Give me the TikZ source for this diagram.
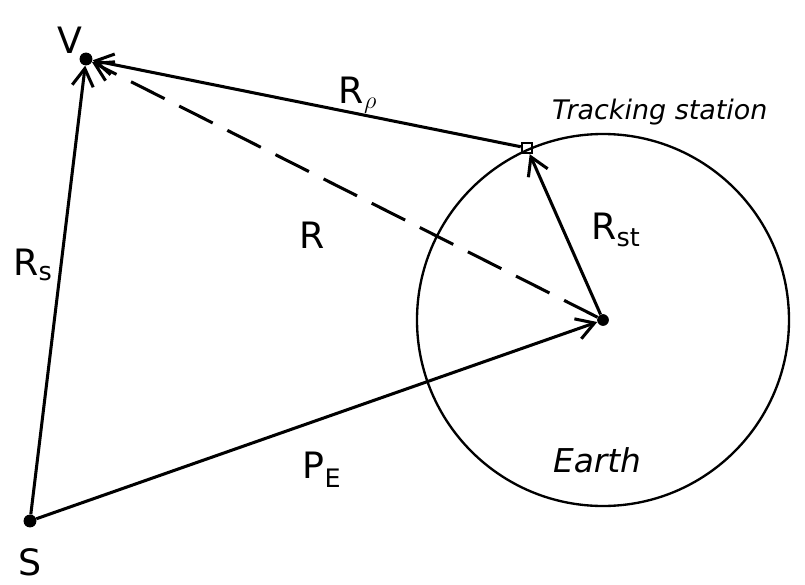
\documentclass[tikz,border=0pt]{standalone}
\usepackage{fontspec}
\setmainfont{DejaVu Sans}
\usetikzlibrary{arrows.meta}
\begin{document}
\begin{tikzpicture}[x=0.03cm,y=-0.03cm,
  vec/.style={line width=2.6pt,-{Straight Barb[length=15pt,width=18pt,line width=2.6pt]}},
  lbl/.style={font=\fontsize{31}{33}\selectfont},
  dot/.style={circle,fill=black,inner sep=0pt,minimum size=11pt}]
\useasboundingbox (0,0) rectangle (805,585);
\node[dot] (V) at (86,59) {};
\node[dot] (S) at (30,521) {};
\node[dot,minimum size=10pt] (C) at (603,320) {};
\node[draw,line width=1.6pt,inner sep=0pt,minimum size=9pt] (T) at (527,148) {};
\draw[line width=2pt] (C) circle (186);
\draw[vec] (S) -- (V);
\draw[vec] (S) -- (C);
\draw[vec] (C) -- (T);
\draw[vec] (T) -- (V);
\draw[vec,dash pattern=on 32pt off 14pt] (C) -- (V);
\node[lbl] (lV) at (70,40) {V};
\node[lbl] (lS) at (30,562) {S};
\node[lbl] (lRs) at (33,265) {R$_{\mathrm s}$};
\node[lbl] (lRr) at (358,95) {R$_\rho$};
\node[lbl] (lR) at (312,235) {R};
\node[lbl] (lRst) at (616,230) {R$_{\mathrm{st}}$};
\node[lbl] (lPE) at (322,470) {P$_{\mathrm E}$};
\node[font=\fontsize{28}{30}\selectfont\itshape] (lE) at (597,460) {Earth};
\node[font=\fontsize{23}{25}\selectfont\itshape,anchor=west] (lT) at (548,112) {Tracking station};
\end{tikzpicture}
\end{document}
